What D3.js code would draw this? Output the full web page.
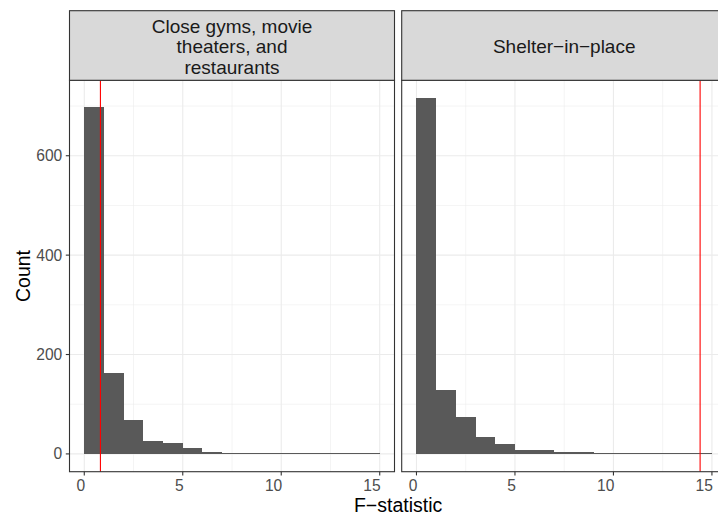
<!DOCTYPE html>
<html>
<head>
<meta charset="utf-8">
<script src="https://cdn.jsdelivr.net/npm/d3@7"></script>
<style>
  html, body { margin: 0; padding: 0; background: #ffffff; }
  svg { display: block; }
  text { font-family: "Liberation Sans", Arial, Helvetica, sans-serif; }
</style>
</head>
<body>
<div id="chart"></div>
<script>
// ---------------- data ----------------
const panelTitles = [["Close gyms, movie", "theaters, and", "restaurants"], ["Shelter\u2212in\u2212place"]];
const binEdges = [0, 1, 2, 3, 4, 5, 6, 7, 8, 9, 10, 11, 12, 13, 14, 15];
const countsClose = [698, 163, 69, 25, 21, 11, 4, 1, 2, 1, 1, 1, 1, 1, 1];
const countsShelter = [716, 129, 75, 35, 19, 7, 7, 3, 3, 1, 1, 1, 1, 1, 1];
const observedF = [0.82, 14.4];
const xTicks = [0, 5, 10, 15];
const xMinorTicks = [2.5, 7.5, 12.5];
const yTicks = [0, 200, 400, 600];
const yMinorTicks = [100, 300, 500, 700];
const xTitle = "F\u2212statistic";
const yTitle = "Count";

// ---------------- layout ----------------
const W = 718, H = 517;
const panelW = 325;
const panelLefts = [69.5, 401.7];
const panelTop = 80.3, panelBottom = 471.7;
const stripTop = 10.7;

const svg = d3.select("#chart").append("svg")
  .attr("width", W).attr("height", H);

const allCounts = [countsClose, countsShelter];
const xLo = d3.min(binEdges), xHi = d3.max(binEdges);
const xPad = (xHi - xLo) * 0.05;
const yMax = d3.max(allCounts.flat());
const yPad = yMax * 0.05;

const y = d3.scaleLinear().domain([-yPad, yMax + yPad]).range([panelBottom, panelTop]);

const gridCol = "#EBEBEB", borderCol = "#333333";

allCounts.forEach((counts, p) => {
  const x0 = panelLefts[p];
  const x = d3.scaleLinear().domain([xLo - xPad, xHi + xPad]).range([x0, x0 + panelW]);
  const g = svg.append("g");

  // panel background
  g.append("rect").attr("x", x0).attr("y", panelTop).attr("width", panelW)
    .attr("height", panelBottom - panelTop).attr("fill", "#ffffff");

  // minor grid
  g.selectAll(".xminor").data(xMinorTicks).enter().append("line")
    .attr("x1", d => x(d)).attr("x2", d => x(d)).attr("y1", panelTop).attr("y2", panelBottom)
    .attr("stroke", gridCol).attr("stroke-width", 0.55);
  g.selectAll(".yminor").data(yMinorTicks).enter().append("line")
    .attr("x1", x0).attr("x2", x0 + panelW).attr("y1", d => y(d)).attr("y2", d => y(d))
    .attr("stroke", gridCol).attr("stroke-width", 0.55);
  // major grid
  g.selectAll(".xmajor").data(xTicks).enter().append("line")
    .attr("x1", d => x(d)).attr("x2", d => x(d)).attr("y1", panelTop).attr("y2", panelBottom)
    .attr("stroke", gridCol).attr("stroke-width", 1.1);
  g.selectAll(".ymajor").data(yTicks).enter().append("line")
    .attr("x1", x0).attr("x2", x0 + panelW).attr("y1", d => y(d)).attr("y2", d => y(d))
    .attr("stroke", gridCol).attr("stroke-width", 1.1);

  // bars
  const bins = counts.map((c, i) => ({ a: binEdges[i], b: binEdges[i + 1], c }));
  g.selectAll(".bar").data(bins).enter().append("rect")
    .attr("x", d => x(d.a))
    .attr("width", d => x(d.b) - x(d.a))
    .attr("y", d => Math.min(y(d.c), y(0) - 1))
    .attr("height", d => Math.max(y(0) - y(d.c), 1))
    .attr("fill", "#595959")
    .attr("shape-rendering", "crispEdges");

  // observed line
  g.append("line")
    .attr("x1", x(observedF[p])).attr("x2", x(observedF[p]))
    .attr("y1", panelTop).attr("y2", panelBottom)
    .attr("stroke", "#FF0000").attr("stroke-width", 1.1);

  // panel border
  g.append("rect").attr("x", x0).attr("y", panelTop).attr("width", panelW)
    .attr("height", panelBottom - panelTop).attr("fill", "none")
    .attr("stroke", borderCol).attr("stroke-width", 1.1);

  // strip
  g.append("rect").attr("x", x0).attr("y", stripTop).attr("width", panelW)
    .attr("height", panelTop - stripTop).attr("fill", "#D9D9D9")
    .attr("stroke", borderCol).attr("stroke-width", 1.1);
  const lines = panelTitles[p];
  const lineH = 20.5;
  const midBase = 53;
  lines.forEach((t, i) => {
    g.append("text")
      .attr("x", x0 + panelW / 2)
      .attr("y", midBase + (i - (lines.length - 1) / 2) * lineH)
      .attr("text-anchor", "middle")
      .attr("font-size", "19px")
      .attr("fill", "#1A1A1A")
      .text(t);
  });

  // x axis ticks
  const xa = g.append("g");
  xa.selectAll("line").data(xTicks).enter().append("line")
    .attr("x1", d => x(d)).attr("x2", d => x(d))
    .attr("y1", panelBottom).attr("y2", panelBottom + 3.7)
    .attr("stroke", borderCol).attr("stroke-width", 1.1);
  xa.selectAll("text").data(xTicks).enter().append("text")
    .attr("x", d => x(d) + 1).attr("y", 490.5)
    .attr("text-anchor", "end")
    .attr("font-size", "15.6px").attr("fill", "#4D4D4D")
    .text(d => d);

  // y axis on first panel only
  if (p === 0) {
    const ya = g.append("g");
    ya.selectAll("line").data(yTicks).enter().append("line")
      .attr("x1", x0 - 3.7).attr("x2", x0)
      .attr("y1", d => y(d)).attr("y2", d => y(d))
      .attr("stroke", borderCol).attr("stroke-width", 1.1);
    ya.selectAll("text").data(yTicks).enter().append("text")
      .attr("x", x0 - 7.2).attr("y", d => y(d))
      .attr("dy", "0.35em")
      .attr("text-anchor", "end")
      .attr("font-size", "15.6px").attr("fill", "#4D4D4D")
      .text(d => d);
  }
});

// axis titles
const plotCenterX = (panelLefts[0] + panelLefts[1] + panelW) / 2;
svg.append("text")
  .attr("x", plotCenterX).attr("y", 512)
  .attr("text-anchor", "middle").attr("font-size", "19.5px").attr("fill", "#000000")
  .text(xTitle);
svg.append("text")
  .attr("transform", `translate(30,${(panelTop + panelBottom) / 2}) rotate(-90)`)
  .attr("text-anchor", "middle").attr("font-size", "19.5px").attr("fill", "#000000")
  .text(yTitle);
</script>
</body>
</html>
